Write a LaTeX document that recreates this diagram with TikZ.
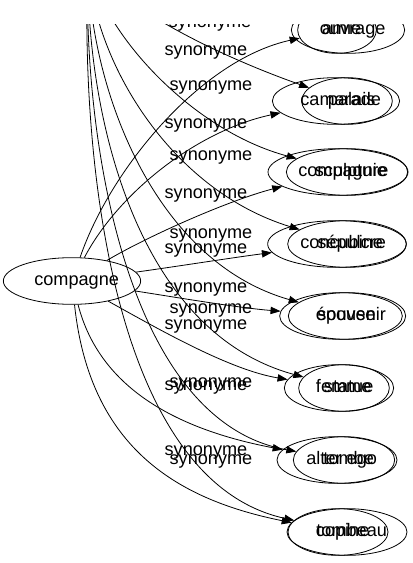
\documentclass[tikz,border=0pt]{standalone}
\usepackage{fontspec}
\setmainfont{Liberation Sans}
\usetikzlibrary{shapes.geometric,arrows.meta}

\begin{document}
\begin{tikzpicture}[
        x=0.75pt, y=-0.75pt,
        word/.style={ellipse, draw, line width=0.6pt, inner sep=0pt, minimum height=35pt, text height=10pt, text depth=3pt,
                     font=\fontsize{13.6}{16}\selectfont, execute at begin node={\hspace*{7pt}}},
        lbl/.style={anchor=base, inner sep=0pt, font=\fontsize{13.6}{16}\selectfont},
        arrow/.style={-{Triangle[length=7.5pt,width=5.5pt]}, line width=0.6pt}
    ]
    \useasboundingbox (0,0) rectangle (413,563);
    \clip (0,25) rectangle (413,563);

    % left word and the source above the picture
    \node[word, minimum width=103pt] (compagne) at (72,281) {compagne};
    \coordinate (monument) at (88,-40);

    % synonyms of compagne
    \node[word, minimum width=59pt] (amie) at (337,30) {amie};
    \node[word, minimum width=95pt] (camarade) at (336,101) {camarade};
    \node[word, minimum width=105pt] (compagnie) at (338,172) {compagnie};
    \node[word, minimum width=104pt] (concubine) at (337,244) {concubine};
    \node[word, minimum width=92pt] (epouse) at (341,316) {épouse};
    \node[word, minimum width=82pt] (femme) at (339,388) {femme};
    \node[word, minimum width=90pt] (alterego) at (337,460) {alter ego};
    \node[word, minimum width=75pt] (copine) at (338,532) {copine};

    % synonyms of the word above
    \node[word, minimum width=85pt] (ouvrage) at (348,30) {ouvrage};
    \node[word, minimum width=68pt] (palais) at (347,101) {palais};
    \node[word, minimum width=91pt] (sculpture) at (347,172) {sculpture};
    \node[word, minimum width=89pt] (sepulcre) at (347,244) {sépulcre};
    \node[word, minimum width=88pt] (souvenir) at (347,316) {souvenir};
    \node[word, minimum width=68pt] (statue) at (344,388) {statue};
    \node[word, minimum width=76pt] (tombe) at (344,460) {tombe};
    \node[word, minimum width=90pt] (tombeau) at (347,532) {tombeau};

    % edges from compagne
    \draw[arrow] (compagne) .. controls (110,170) and (200,60) .. (amie);
    \draw[arrow] (compagne) .. controls (120,190) and (200,130) .. (camarade);
    \draw[arrow] (compagne) .. controls (150,235) and (230,200) .. (compagnie);
    \draw[arrow] (compagne) .. controls (180,266) and (230,258) .. (concubine);
    \draw[arrow] (compagne) .. controls (180,298) and (240,308) .. (epouse);
    \draw[arrow] (compagne) .. controls (160,330) and (230,370) .. (femme);
    \draw[arrow] (compagne) .. controls (100,390) and (180,430) .. (alterego);
    \draw[arrow] (compagne) .. controls (90,450) and (180,500) .. (copine);

    % edges from above
    \draw[arrow] (monument) .. controls (150,-20) and (250,0) .. (ouvrage);
    \draw[arrow] (monument) .. controls (120,10) and (230,60) .. (palais);
    \draw[arrow] (monument) .. controls (100,30) and (190,130) .. (sculpture);
    \draw[arrow] (monument) .. controls (92,60) and (170,190) .. (sepulcre);
    \draw[arrow] (monument) .. controls (88,80) and (150,260) .. (souvenir);
    \draw[arrow] (monument) .. controls (85,100) and (130,330) .. (statue);
    \draw[arrow] (monument) .. controls (82,120) and (120,420) .. (tombe);
    \draw[arrow] (monument) .. controls (80,150) and (110,480) .. (tombeau);

    % edge labels
    \node[lbl] (l1) at (210,28) {synonyme};
    \node[lbl] (l2) at (206,56) {synonyme};
    \node[lbl] (l3) at (211,91) {synonyme};
    \node[lbl] (l4) at (206,128) {synonyme};
    \node[lbl] (l5) at (211,161) {synonyme};
    \node[lbl] (l6) at (206,198) {synonyme};
    \node[lbl] (l7) at (211,238) {synonyme};
    \node[lbl] (l8) at (206,253) {synonyme};
    \node[lbl] (l9) at (206,292) {synonyme};
    \node[lbl] (l10) at (211,313) {synonyme};
    \node[lbl] (l11) at (206,329) {synonyme};
    \node[lbl] (l12) at (211,387) {synonyme};
    \node[lbl] (l13) at (206,390) {synonyme};
    \node[lbl] (l14) at (206,455) {synonyme};
    \node[lbl] (l15) at (211,464) {synonyme};
\end{tikzpicture}
\end{document}
